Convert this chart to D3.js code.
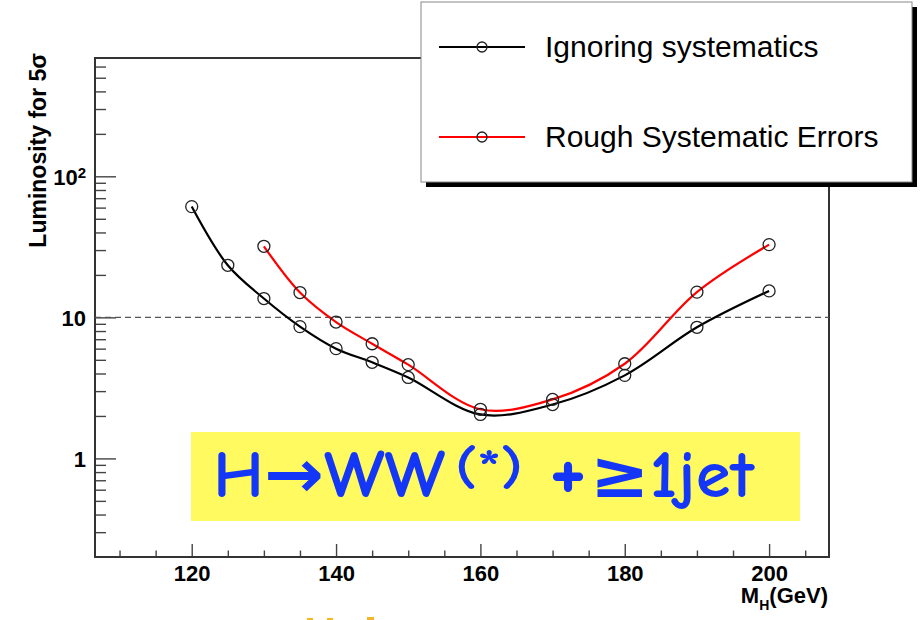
<!DOCTYPE html>
<html><head><meta charset="utf-8">
<script src="https://cdn.jsdelivr.net/npm/d3@7"></script>
<style>body{margin:0;background:#fff;} svg{display:block;}</style>
</head><body>
<svg id="chart" width="922" height="620"></svg>
<script>
// ---- data ----
const massesIgnoring = [120,125,130,135,140,145,150,160,170,180,190,200];
const lumiIgnoring   = [61, 23.4, 13.6, 8.6, 6.0, 4.8, 3.75, 2.05, 2.41, 3.88, 8.5, 15.4];
const massesRough    = [130,135,140,145,150,160,170,180,190,200];
const lumiRough      = [31.9, 15.0, 9.26, 6.5, 4.62, 2.23, 2.62, 4.69, 15.1, 32.8];
const seriesNames    = ["Ignoring systematics", "Rough Systematic Errors"];
const xMajorTicks    = [120,140,160,180,200];
const xMinorTicks    = [110,115,125,130,135,145,150,155,165,170,175,185,190,195,205];
const yMajorTicks    = [1,10,100];
const yMinorTicks    = [0.3,0.4,0.5,0.6,0.7,0.8,0.9,2,3,4,5,6,7,8,9,20,30,40,50,60,70,80,90,200,300,400,500,600];
const referenceLine  = 10;
const xTitle = ["M","H","(GeV)"];
const yTitle = "Luminosity for 5σ";

const svg = d3.select("#chart");
svg.append("rect").attr("width",922).attr("height",620).attr("fill","#fff");

const L = 95, R = 829, T = 58, B = 557;
const x = d3.scaleLinear().domain([106.6, 208.3]).range([L, R]);
const y = d3.scaleLog().domain([0.2, 690]).range([B, T]);

const tickColor = "#444";
const font = "'Liberation Sans', Arial, Helvetica, sans-serif";

// x axis minor
const gxm = svg.append("g").attr("transform", `translate(0,${B})`)
  .call(d3.axisBottom(x).tickValues(xMinorTicks).tickSize(-6.5).tickSizeOuter(0).tickFormat(""));
gxm.select(".domain").remove();
gxm.selectAll("line").attr("stroke", tickColor).attr("stroke-width", 1.4);
// x axis major
const gx = svg.append("g").attr("transform", `translate(0,${B})`)
  .call(d3.axisBottom(x).tickValues(xMajorTicks).tickSize(-13).tickSizeOuter(0).tickPadding(8).tickFormat(d3.format("d")));
gx.select(".domain").remove();
gx.selectAll("line").attr("stroke", tickColor).attr("stroke-width", 1.4);
gx.selectAll("text").attr("font-family", font).attr("font-size", 22).attr("font-weight", "bold").attr("fill", "#000");

// y axis minor
const gym = svg.append("g").attr("transform", `translate(${L},0)`)
  .call(d3.axisLeft(y).tickValues(yMinorTicks).tickSize(-11).tickSizeOuter(0).tickFormat(""));
gym.select(".domain").remove();
gym.selectAll("line").attr("stroke", tickColor).attr("stroke-width", 1.4);
// y axis major
const gy = svg.append("g").attr("transform", `translate(${L},0)`)
  .call(d3.axisLeft(y).tickValues(yMajorTicks).tickSize(-21).tickSizeOuter(0).tickPadding(9).tickFormat(d => String(d)));
gy.select(".domain").remove();
gy.selectAll("line").attr("stroke", tickColor).attr("stroke-width", 1.4);
gy.selectAll("text").attr("font-family", font).attr("font-size", 22).attr("font-weight", "bold").attr("fill", "#000").attr("dy", "0.38em")
  .each(function(d) {
    if (d === 100) {
      const t = d3.select(this).text(null);
      t.append("tspan").text("10");
      t.append("tspan").attr("dy", "-0.5em").attr("font-size", 15).text("2");
    }
  });

// frame
svg.append("rect").attr("x", L).attr("y", T).attr("width", R - L).attr("height", B - T)
  .attr("fill", "none").attr("stroke", "#333").attr("stroke-width", 2);

// reference dashed line
svg.append("line").attr("x1", L).attr("x2", R).attr("y1", y(referenceLine)).attr("y2", y(referenceLine))
  .attr("stroke", "#555").attr("stroke-width", 1.3).attr("stroke-dasharray", "6,4");

// axis titles
const xt = svg.append("text").attr("x", 828).attr("y", 603).attr("text-anchor", "end")
  .attr("font-family", font).attr("font-weight", "bold").attr("font-size", 22);
xt.append("tspan").text(xTitle[0]);
xt.append("tspan").attr("font-size", 14).attr("dy", 7).text(xTitle[1]);
xt.append("tspan").attr("dy", -7).text(xTitle[2]);

svg.append("text").attr("transform", "translate(46,53) rotate(-90)").attr("text-anchor", "end")
  .attr("font-family", font).attr("font-weight", "bold").attr("font-size", 23).text(yTitle);

// series
const dataIgn = massesIgnoring.map((m, i) => ({m, v: lumiIgnoring[i]}));
const dataRough = massesRough.map((m, i) => ({m, v: lumiRough[i]}));
const line = d3.line().x(d => x(d.m)).y(d => y(d.v)).curve(d3.curveCatmullRom.alpha(0.5));
svg.append("path").datum(dataIgn).attr("d", line).attr("fill", "none").attr("stroke", "#000").attr("stroke-width", 2.2);
svg.append("path").datum(dataRough).attr("d", line).attr("fill", "none").attr("stroke", "#ff0000").attr("stroke-width", 2.2);
[dataIgn, dataRough].forEach(ds => {
  svg.append("g").selectAll("circle").data(ds).join("circle")
    .attr("cx", d => x(d.m)).attr("cy", d => y(d.v)).attr("r", 6)
    .attr("fill", "none").attr("stroke", "#222").attr("stroke-width", 1.3);
});

// legend
svg.append("rect").attr("x", 426).attr("y", 7).attr("width", 491).attr("height", 180).attr("fill", "#000");
svg.append("rect").attr("x", 421).attr("y", 2).attr("width", 491).attr("height", 180).attr("fill", "#fff")
  .attr("stroke", "#888").attr("stroke-width", 1);
const legColors = ["#000", "#ff0000"];
const legY = [47, 137];
seriesNames.forEach((name, i) => {
  svg.append("line").attr("x1", 439).attr("x2", 525).attr("y1", legY[i]).attr("y2", legY[i])
    .attr("stroke", legColors[i]).attr("stroke-width", 2.2);
  svg.append("circle").attr("cx", 482).attr("cy", legY[i]).attr("r", 5).attr("fill", "none")
    .attr("stroke", "#222").attr("stroke-width", 1.3);
  svg.append("text").attr("x", 545).attr("y", legY[i] + 10).attr("font-family", font).attr("font-size", 30)
    .attr("fill", "#000").text(name);
});

// annotation
svg.append("rect").attr("x", 191).attr("y", 432).attr("width", 609).attr("height", 89).attr("fill", "#fffa5f");
const aFont = "'Comic Sans MS', 'Comic Neue', 'DejaVu Sans', sans-serif";
const aColor = "#1436f7";
const ann = svg.append("text").attr("font-family", aFont).attr("font-weight", "bold").attr("fill", aColor);
const pieces = [
  {s: "H→WW",  x: 213, y: 497, size: 67, len: 232},
  {s: "(*)",   x: 455, y: 484, size: 50, len: 68},
  {s: "+",     x: 549, y: 498, size: 88, len: 38},
  {s: "≥1jet", x: 590, y: 497, size: 66, len: 164}
];
pieces.forEach(p => {
  ann.append("tspan").attr("x", p.x).attr("y", p.y).attr("font-size", p.size)
    .attr("textLength", p.len).attr("lengthAdjust", "spacingAndGlyphs").text(p.s);
});

// cut-off fragments at bottom edge
[[307,618,6,2],[327,618,6,2],[367,617,7,3]].forEach(r => {
  svg.append("rect").attr("x", r[0]).attr("y", r[1]).attr("width", r[2]).attr("height", r[3]).attr("fill", "#f6b526");
});
</script>
</body></html>
